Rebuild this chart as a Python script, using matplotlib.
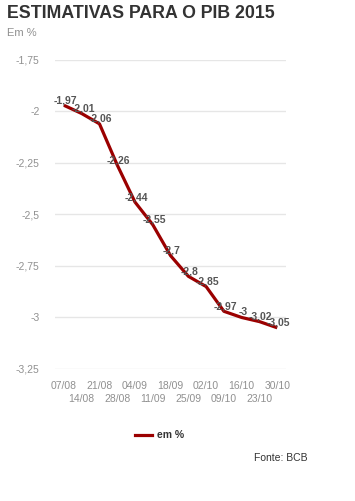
import matplotlib.pyplot as plt
from matplotlib.lines import Line2D

plt.rcParams['font.family'] = ['Liberation Sans', 'DejaVu Sans']

datas = ['07/08', '14/08', '21/08', '28/08', '04/09', '11/09', '18/09',
         '25/09', '02/10', '09/10', '16/10', '23/10', '30/10']
pib = [-1.97, -2.01, -2.06, -2.26, -2.44, -2.55, -2.7,
       -2.8, -2.85, -2.97, -3, -3.02, -3.05]
yticks = [-1.75, -2, -2.25, -2.5, -2.75, -3, -3.25]

def br(v):
    # formato brasileiro, virgula decimal
    return ('%g' % v).replace('.', ',')

fig = plt.figure(figsize=(3.55, 5.01), dpi=100)
ax = fig.add_axes([0.155, 0.2635, 0.651, 0.6168])

x = list(range(len(datas)))
ax.plot(x, pib, color='#9b0000', lw=2.3, solid_capstyle='butt', zorder=3)

for xi, v in zip(x, pib):
    ax.annotate(br(v), (xi, v), xytext=(1, 0), textcoords='offset points',
                ha='center', va='bottom', fontsize=7.5, color='#555555',
                fontweight='bold', zorder=4)

ax.set_xlim(-0.5, len(datas) - 0.5)
ax.set_ylim(-3.25, -1.75)
ax.set_yticks(yticks)
ax.set_yticklabels([br(v) for v in yticks])

# datas alternadas em duas linhas
ax.set_xticks(x[::2])
ax.set_xticklabels(datas[::2])
ax.set_xticks(x[1::2], minor=True)
ax.set_xticklabels(datas[1::2], minor=True)

ax.grid(axis='y', color='#e6e6e6', lw=1)
ax.set_axisbelow(True)
for s in ax.spines.values():
    s.set_visible(False)
ax.tick_params(axis='both', which='both', length=0, labelsize=7.5,
               labelcolor='#909090')
ax.tick_params(axis='y', pad=11)
ax.tick_params(axis='x', which='major', pad=9)
ax.tick_params(axis='x', which='minor', pad=18)

fig.text(0.02, 0.99, 'ESTIMATIVAS PARA O PIB 2015', fontsize=12.8, fontweight='bold',
         color='#333333', va='top', ha='left')
fig.text(0.02, 0.945, 'Em %', fontsize=8, color='#909090', va='top', ha='left')

fig.legend(handles=[Line2D([], [], color='#9b0000', lw=2.3)], labels=['em %'],
           loc='center', bbox_to_anchor=(0.45, 0.131), frameon=False,
           handlelength=1.6, handletextpad=0.5,
           prop={'size': 7.5, 'weight': 'bold'}, labelcolor='#333333')
fig.text(0.865, 0.085, 'Fonte: BCB', fontsize=7.5, color='#333333',
         ha='right', va='center')

fig.savefig('out.png', dpi=100)
